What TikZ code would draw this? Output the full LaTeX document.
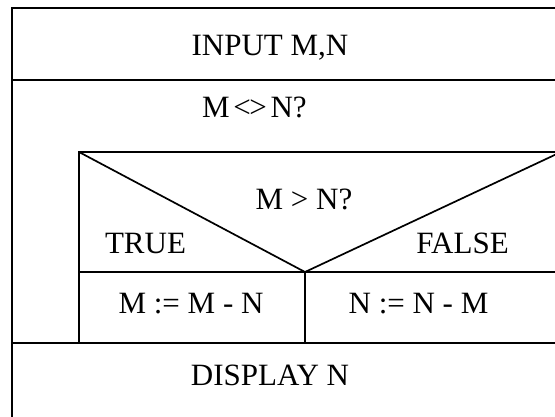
\documentclass[tikz,border=0pt]{standalone}
\usepackage{fontspec}
\setmainfont{Liberation Serif}
\usetikzlibrary{positioning}
\tikzset{
  % frame style is used for the blocks of the structogram
  frame/.style={rectangle, draw, line width=1.7pt, anchor=north west, inner sep=0pt, outer sep=0pt},
  txt/.style={font=\fontsize{31}{36}\selectfont, inner sep=0pt, anchor=base}}

\begin{document}
\begin{tikzpicture}[x=1pt, y=-1pt]
\useasboundingbox (0,0) rectangle (555,416);

\draw (12,8) node (prog) [frame, minimum width=570pt, minimum height=430pt] {};
\draw (12,80) node (loop) [frame, minimum width=570pt, minimum height=263pt] {};
\draw (79,152) node (cond) [frame, minimum width=500pt, minimum height=120pt] {};
\draw (79,272) node (yes) [frame, minimum width=226pt, minimum height=71pt] {};
\draw (305,272) node (no) [frame, minimum width=300pt, minimum height=71pt] {};

\draw [line width=1.7pt] (cond.north west) -- (yes.north east) -- ++(256,-120);

\draw (270,55) node (tin) [txt] {INPUT M,N};
\draw (254.5,117) node (tloop) [txt] {\spaceskip=0.12em M <\kern-0.05em> N?};
\draw (304,209) node (tcond) [txt] {M > N?};
\draw (145.5,253) node (ttrue) [txt] {TRUE};
\draw (462.5,253) node (tfalse) [txt] {FALSE};
\draw (191,313) node (tyes) [txt] {M := M - N};
\draw (418.5,313) node (tno) [txt] {N := N - M};
\draw (270,385) node (tout) [txt] {DISPLAY N};

\end{tikzpicture}
\end{document}
